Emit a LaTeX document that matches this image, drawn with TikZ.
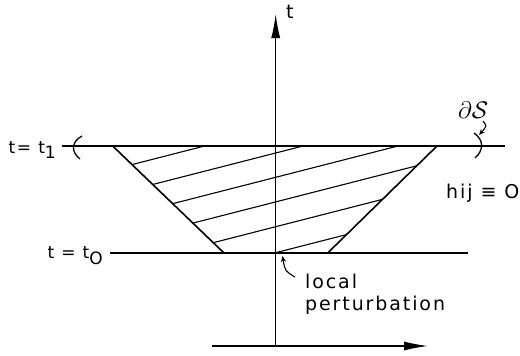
\documentclass[tikz,border=0pt]{standalone}
\usepackage{fix-cm}
\usepackage{fontspec}
\setmainfont{DejaVu Sans}[LetterSpace=10]
\usetikzlibrary{arrows.meta}
\begin{document}
\begin{tikzpicture}[x=1pt,y=-1pt,
  axis/.style={line width=1.3pt},
  edge/.style={line width=1.6pt},
  hatch/.style={line width=1.1pt},
  lbl/.style={inner sep=0pt,anchor=base west,font=\fontsize{19}{19}\selectfont},
  lble/.style={inner sep=0pt,anchor=base east,font=\fontsize{17}{17}\selectfont},
  note/.style={-{Stealth[length=6pt,width=5pt]},line width=1.1pt},
  bigtip/.style={-{Latex[length=24pt,width=9pt]}}]
\useasboundingbox (0,0) rectangle (520,356);
\coordinate (TL) at (112.7,146);
\coordinate (BL) at (224,253);
\coordinate (BR) at (327.7,253);
\coordinate (TR) at (437,146);
\coordinate (ybot) at (275.7,346);
\coordinate (ytop) at (275.7,14);
\coordinate (xl) at (212,346);
\coordinate (xr) at (428,346);
\coordinate (t1l) at (62,146);
\coordinate (t1r) at (505,146);
\coordinate (t0l) at (110,253);
\coordinate (t0r) at (468,253);
% axes
\draw[axis,bigtip] (ybot) -- (ytop);
\draw[axis,bigtip] (xl) -- (xr);
% time slices
\draw[edge] (t1l) -- (t1r);
\draw[axis] (t0l) -- (t0r);
% region
\draw[edge] (TL) -- (BL);
\draw[edge] (TR) -- (BR);
\begin{scope}
  \clip (TL) -- (BL) -- (BR) -- (TR) -- cycle;
  \foreach \c in {127.8,153,177.3,201.9,226.7,252.7}
    \draw[hatch] (0,\c+70.58) -- (520,\c-62.54);
\end{scope}
% boundary marks
\draw[axis] (82,136) .. controls (71,142) and (71,152) .. (80,159);
\draw[axis] (474,133) .. controls (484,140) and (484,150) .. (475,158);
% labels
\node[lbl] (tl) at (286,18.3) {t};
\node[lble] (l1) at (56,153) {t= t\raisebox{-5pt}{1}};
\node[lble] (l0) at (103,258) {t = t\raisebox{-6pt}{O}};
\node[lbl] (h) at (446,198) {hij ≡ O};
\node[lbl,font=\fontsize{24}{24}\selectfont] (ds) at (458,118) {$\partial\mathcal{S}$};
\node[lbl] (loc) at (305,288.3) {local};
\node[lbl] (pert) at (305,310) {perturbation};
% annotation arrows
\coordinate (dsa) at (483,121);
\coordinate (dsb) at (479,135);
\draw[note] (dsa) .. controls (487,126) .. (dsb);
\coordinate (lpa) at (295,277);
\coordinate (lpb) at (282.5,256);
\draw[note] (lpa) .. controls (285,271) .. (lpb);
\end{tikzpicture}
\end{document}
